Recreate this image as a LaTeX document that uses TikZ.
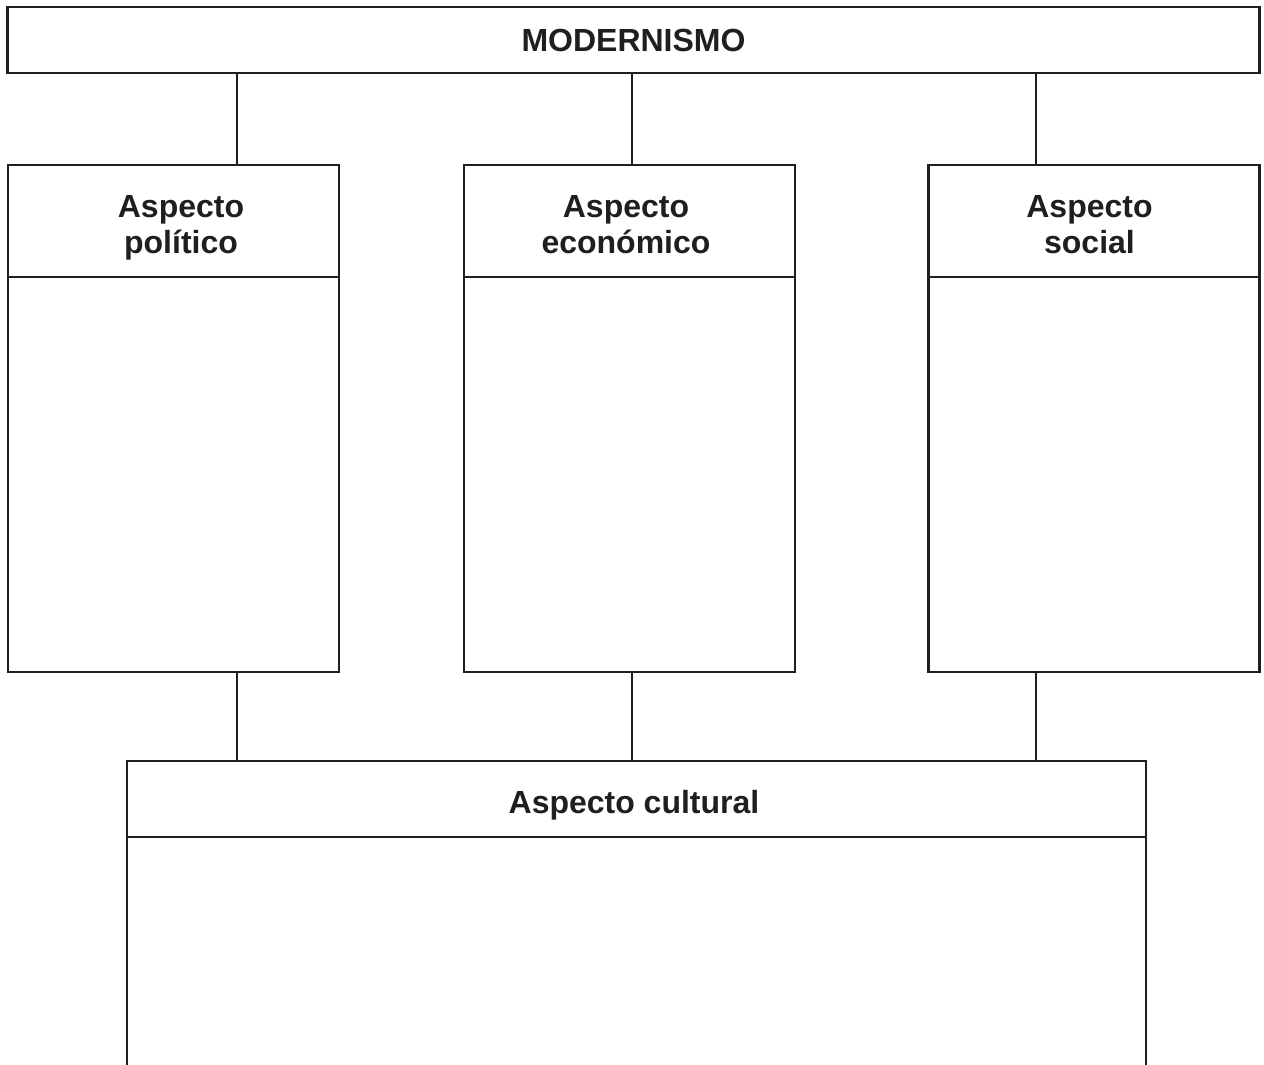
\documentclass[tikz,border=0pt]{standalone}
\usepackage{fontspec}
\setmainfont{Liberation Sans}
\begin{document}
\begin{tikzpicture}[x=1pt,y=-1pt,
  every node/.style={inner sep=0pt, outer sep=0pt},
  boxstyle/.style={draw=black!88, line width=2.8pt, rectangle},
  lbl/.style={anchor=base, font=\bfseries\fontsize{32}{36}\selectfont, text=black!88},
  link/.style={draw=black!88, line width=2.8pt}]
\useasboundingbox (0,0) rectangle (1264,1065);
% boxes
\node[boxstyle, minimum width=1252pt, minimum height=66pt] (top) at (633.5,40) {};
\node[boxstyle, minimum width=331pt, minimum height=112pt] (hp) at (173.5,221) {};
\node[boxstyle, minimum width=331pt, minimum height=112pt] (he) at (629.5,221) {};
\node[boxstyle, minimum width=331pt, minimum height=112pt] (hs) at (1094,221) {};
\node[boxstyle, minimum width=331pt, minimum height=395pt, anchor=north] (bp) at (hp.south) {};
\node[boxstyle, minimum width=331pt, minimum height=395pt, anchor=north] (be) at (he.south) {};
\node[boxstyle, minimum width=331pt, minimum height=395pt, anchor=north] (bs) at (hs.south) {};
\node[boxstyle, minimum width=1019pt, minimum height=76pt] (hc) at (636.5,799) {};
% labels
\node[lbl] (ltop) at (633.5,52) {MODERNISMO};
\node[lbl] (lp1) at (181,217) {Aspecto};
\node[lbl] (lp2) at (181,253) {político};
\node[lbl] (le1) at (626,217) {Aspecto};
\node[lbl] (le2) at (626,253) {económico};
\node[lbl] (ls1) at (1089.5,217) {Aspecto};
\node[lbl] (ls2) at (1089.5,253) {social};
\node[lbl] (lc) at (634,813) {Aspecto cultural};
% open bottom box sides
\coordinate (cl) at (127,1070);
\coordinate (cr) at (1146,1070);
\draw[link] (hc.south west) -- (cl);
\draw[link] (hc.south east) -- (cr);
% connectors
\coordinate (x1) at (237,0);
\coordinate (x2) at (632,0);
\coordinate (x3) at (1036,0);
\draw[link] (top.south -| x1) -- (hp.north -| x1);
\draw[link] (top.south -| x2) -- (he.north -| x2);
\draw[link] (top.south -| x3) -- (hs.north -| x3);
\draw[link] (bp.south -| x1) -- (hc.north -| x1);
\draw[link] (be.south -| x2) -- (hc.north -| x2);
\draw[link] (bs.south -| x3) -- (hc.north -| x3);
\end{tikzpicture}
\end{document}
